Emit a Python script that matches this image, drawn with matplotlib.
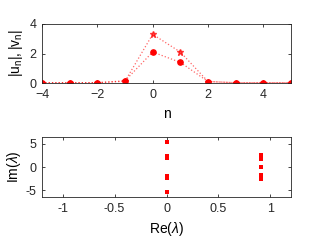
import matplotlib
matplotlib.use('Agg')
import matplotlib.pyplot as plt
import numpy as np

plt.rcParams['font.family'] = ['Liberation Sans', 'DejaVu Sans']
plt.rcParams['mathtext.fontset'] = 'custom'
plt.rcParams['mathtext.rm'] = 'Liberation Sans'
plt.rcParams['mathtext.it'] = 'Liberation Sans:italic'

# site data
n = np.arange(-4, 6)
u = [0.02, 0.02, 0.02, 0.12, 3.3, 2.1, 0.1, 0.02, 0.02, 0.02]
v = [0.02, 0.02, 0.02, 0.15, 2.1, 1.4, 0.1, 0.02, 0.02, 0.02]

# spectrum
re_lam = [0, 0, 0, 0, 0, 0, 0, 0, 0, 0,
          0.915, 0.915, 0.915, 0.915, 0.915, 0.915, 0.915, 0.915, 0.915]
im_lam = [5.4, -5.4, 1.9, 2.1, 2.3, -1.9, -2.1, -2.3, 2.0, -2.0,
          1.7, 2.0, 2.3, 2.5, 0.0, -1.7, -2.0, -2.3, -2.5]

edge = '#262626'
red = '#ff0000'

fig = plt.figure(figsize=(3.21, 2.41), dpi=100)
ax1 = fig.add_axes([42/321, 1-83/241, 249/321, 59/241])
ax2 = fig.add_axes([42/321, 1-197/241, 249/321, 60/241])

ax1.plot(n, u, ':', color=red, lw=0.9, alpha=0.6)
ax1.plot(n, u, '*', color=red, ms=5, alpha=0.7)
ax1.plot(n, v, ':', color=red, lw=0.9, alpha=0.6)
ax1.plot(n, v, 'o', color=red, ms=3.8)
ax1.set_xlim(-4, 5)
ax1.set_ylim(0, 4)
ax1.set_xticks([-4, -2, 0, 2, 4])
ax1.set_yticks([0, 2, 4])
ax1.set_xlabel('n', fontsize=10, labelpad=5)
ax1.set_ylabel(r'$|\mathrm{u_n}|,|\mathrm{v_n}|$', fontsize=10, labelpad=3)

ax2.plot(re_lam, im_lam, 's', color=red, ms=2.2, mew=0)
ax2.set_xlim(-1.2, 1.2)
ax2.set_ylim(-6.5, 6.5)
ax2.set_xticks([-1, -0.5, 0, 0.5, 1])
ax2.set_xticklabels(['-1', '-0.5', '0', '0.5', '1'])
ax2.set_yticks([-5, 0, 5])
ax2.set_yticklabels(['-5', '0', '5'])
ax2.set_xlabel(r'Re($\lambda$)', fontsize=10, labelpad=4)
ax2.set_ylabel(r'Im($\lambda$)', fontsize=10, labelpad=2)

for ax in (ax1, ax2):
    for s in ax.spines.values():
        s.set_color(edge)
        s.set_linewidth(0.6)
    ax.tick_params(direction='in', length=2.5, width=0.6, colors=edge,
                   labelsize=9, top=True, right=True)
    ax.tick_params(axis='x', pad=4)
    ax.tick_params(axis='y', pad=4)

fig.savefig('out.png', dpi=100)
